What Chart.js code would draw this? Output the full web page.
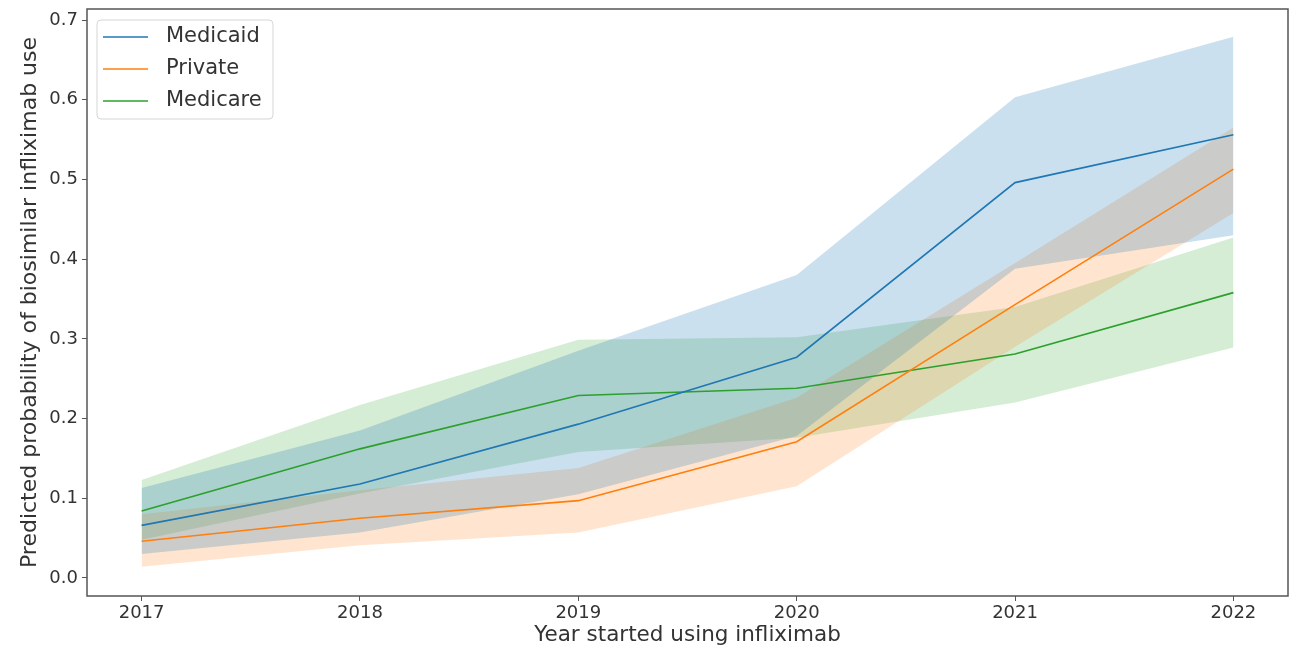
<!DOCTYPE html>
<html>
<head>
<meta charset="utf-8">
<script src="https://cdn.jsdelivr.net/npm/chart.js@4"></script>
<style>
  html, body { margin: 0; padding: 0; background: #fff; }
  #wrap { width: 1294px; height: 647px; position: relative; }
</style>
</head>
<body>
<div id="wrap"><canvas id="c"></canvas></div>
<script>
// ---- data ----
const years = [2017, 2018, 2019, 2020, 2021, 2022];
const yTicks = [0.0, 0.1, 0.2, 0.3, 0.4, 0.5, 0.6, 0.7];

const seriesNames = ["Medicaid", "Private", "Medicare"];

const medicaid     = [0.066, 0.118, 0.193, 0.277, 0.496, 0.556];
const medicaidLow  = [0.030, 0.057, 0.105, 0.178, 0.388, 0.430];
const medicaidHigh = [0.113, 0.185, 0.285, 0.380, 0.603, 0.679];

const privateVals  = [0.046, 0.075, 0.097, 0.171, 0.343, 0.513];
const privateLow   = [0.014, 0.041, 0.057, 0.115, 0.290, 0.458];
const privateHigh  = [0.080, 0.110, 0.138, 0.226, 0.395, 0.565];

const medicare     = [0.084, 0.162, 0.229, 0.238, 0.281, 0.358];
const medicareLow  = [0.048, 0.106, 0.158, 0.176, 0.220, 0.289];
const medicareHigh = [0.123, 0.217, 0.299, 0.302, 0.340, 0.427];

// ---- styling ----
const lineColors = ["#1f77b4", "#ff7f0e", "#2ca02c"];
const bandColors = ["rgba(31,119,180,0.23)", "rgba(255,127,14,0.2)", "rgba(44,160,44,0.2)"];
const FONT = "'DejaVu Sans', sans-serif";
const TEXT = "#333333";
const SPINE = "#555555";

const pts = arr => arr.map((v, i) => ({ x: years[i], y: v }));

const lines = [medicaid, privateVals, medicare];
const lows = [medicaidLow, privateLow, medicareLow];
const highs = [medicaidHigh, privateHigh, medicareHigh];

const datasets = [];
// lines first so they are drawn on top
lines.forEach((arr, i) => {
  datasets.push({
    label: seriesNames[i], data: pts(arr), borderColor: lineColors[i],
    borderWidth: 1.6, pointRadius: 0, tension: 0, fill: false
  });
});
// bands: lower (invisible), upper filled to lower
lows.forEach((arr, i) => {
  datasets.push({
    label: seriesNames[i] + " low", data: pts(arr), borderWidth: 0,
    borderColor: "rgba(0,0,0,0)", pointRadius: 0, tension: 0, fill: false
  });
  datasets.push({
    label: seriesNames[i] + " high", data: pts(highs[i]), borderWidth: 0,
    borderColor: "rgba(0,0,0,0)", backgroundColor: bandColors[i],
    pointRadius: 0, tension: 0, fill: "-1"
  });
});

const framePlugin = {
  id: "frame",
  afterDatasetsDraw(chart) {
    const { ctx, chartArea: a } = chart;
    ctx.save();
    ctx.strokeStyle = SPINE;
    ctx.lineWidth = 1.5;
    ctx.strokeRect(a.left, a.top, a.right - a.left, a.bottom - a.top);
    ctx.restore();
  },
  afterDraw(chart) {
    // legend inside the plot, upper-left
    const { ctx, chartArea: a } = chart;
    const x0 = a.left + 10, y0 = a.top + 11, w = 176, h = 99;
    ctx.save();
    ctx.fillStyle = "rgba(255,255,255,0.85)";
    ctx.strokeStyle = "#d5d5d5";
    ctx.lineWidth = 1;
    const r = 4;
    ctx.beginPath();
    ctx.moveTo(x0 + r, y0);
    ctx.lineTo(x0 + w - r, y0); ctx.quadraticCurveTo(x0 + w, y0, x0 + w, y0 + r);
    ctx.lineTo(x0 + w, y0 + h - r); ctx.quadraticCurveTo(x0 + w, y0 + h, x0 + w - r, y0 + h);
    ctx.lineTo(x0 + r, y0 + h); ctx.quadraticCurveTo(x0, y0 + h, x0, y0 + h - r);
    ctx.lineTo(x0, y0 + r); ctx.quadraticCurveTo(x0, y0, x0 + r, y0);
    ctx.closePath();
    ctx.fill(); ctx.stroke();
    ctx.font = "21px " + FONT;
    ctx.textBaseline = "middle";
    ctx.textAlign = "left";
    seriesNames.forEach((name, i) => {
      const yy = y0 + 17 + i * 32;
      ctx.strokeStyle = lineColors[i];
      ctx.lineWidth = 1.5;
      ctx.beginPath();
      ctx.moveTo(x0 + 6, yy); ctx.lineTo(x0 + 51, yy);
      ctx.stroke();
      ctx.fillStyle = TEXT;
      ctx.fillText(name, x0 + 69, yy);
    });
    ctx.restore();
  }
};

new Chart(document.getElementById("c"), {
  type: "line",
  data: { datasets },
  options: {
    responsive: true,
    maintainAspectRatio: false,
    animation: false,
    devicePixelRatio: 1,
    layout: { padding: { left: 0, right: 6, top: 9, bottom: 0 } },
    plugins: { legend: { display: false }, tooltip: { enabled: false } },
    scales: {
      x: {
        type: "linear",
        min: 2016.75, max: 2022.25,
        afterFit: s => { s.height = 51; s.paddingLeft = 0; s.paddingRight = 0; },
        afterBuildTicks: s => { s.ticks = years.map(v => ({ value: v })); },
        border: { display: false },
        grid: { drawOnChartArea: false, drawTicks: true, tickLength: 5, color: SPINE, lineWidth: 1 },
        ticks: { color: TEXT, font: { family: FONT, size: 18 }, padding: 2, maxRotation: 0,
                 callback: v => String(v) },
        title: { display: true, text: "Year started using infliximab", color: TEXT,
                 font: { family: FONT, size: 21.5, lineHeight: 1 }, padding: { top: 0, bottom: 1 } }
      },
      y: {
        type: "linear",
        min: -0.0226, max: 0.7138,
        afterFit: s => { s.width = 87; s.paddingTop = 0; s.paddingBottom = 0; },
        afterBuildTicks: s => { s.ticks = yTicks.map(v => ({ value: v })); },
        border: { display: false },
        grid: { drawOnChartArea: false, drawTicks: true, tickLength: 5, color: SPINE, lineWidth: 1 },
        ticks: { color: TEXT, font: { family: FONT, size: 18 }, padding: 4,
                 callback: v => Number(v).toFixed(1) },
        title: { display: true, text: "Predicted probability of biosimilar infliximab use", color: TEXT,
                 font: { family: FONT, size: 22, lineHeight: 1 }, padding: { top: 19, bottom: 0 } }
      }
    }
  },
  plugins: [framePlugin]
});
</script>
</body>
</html>
